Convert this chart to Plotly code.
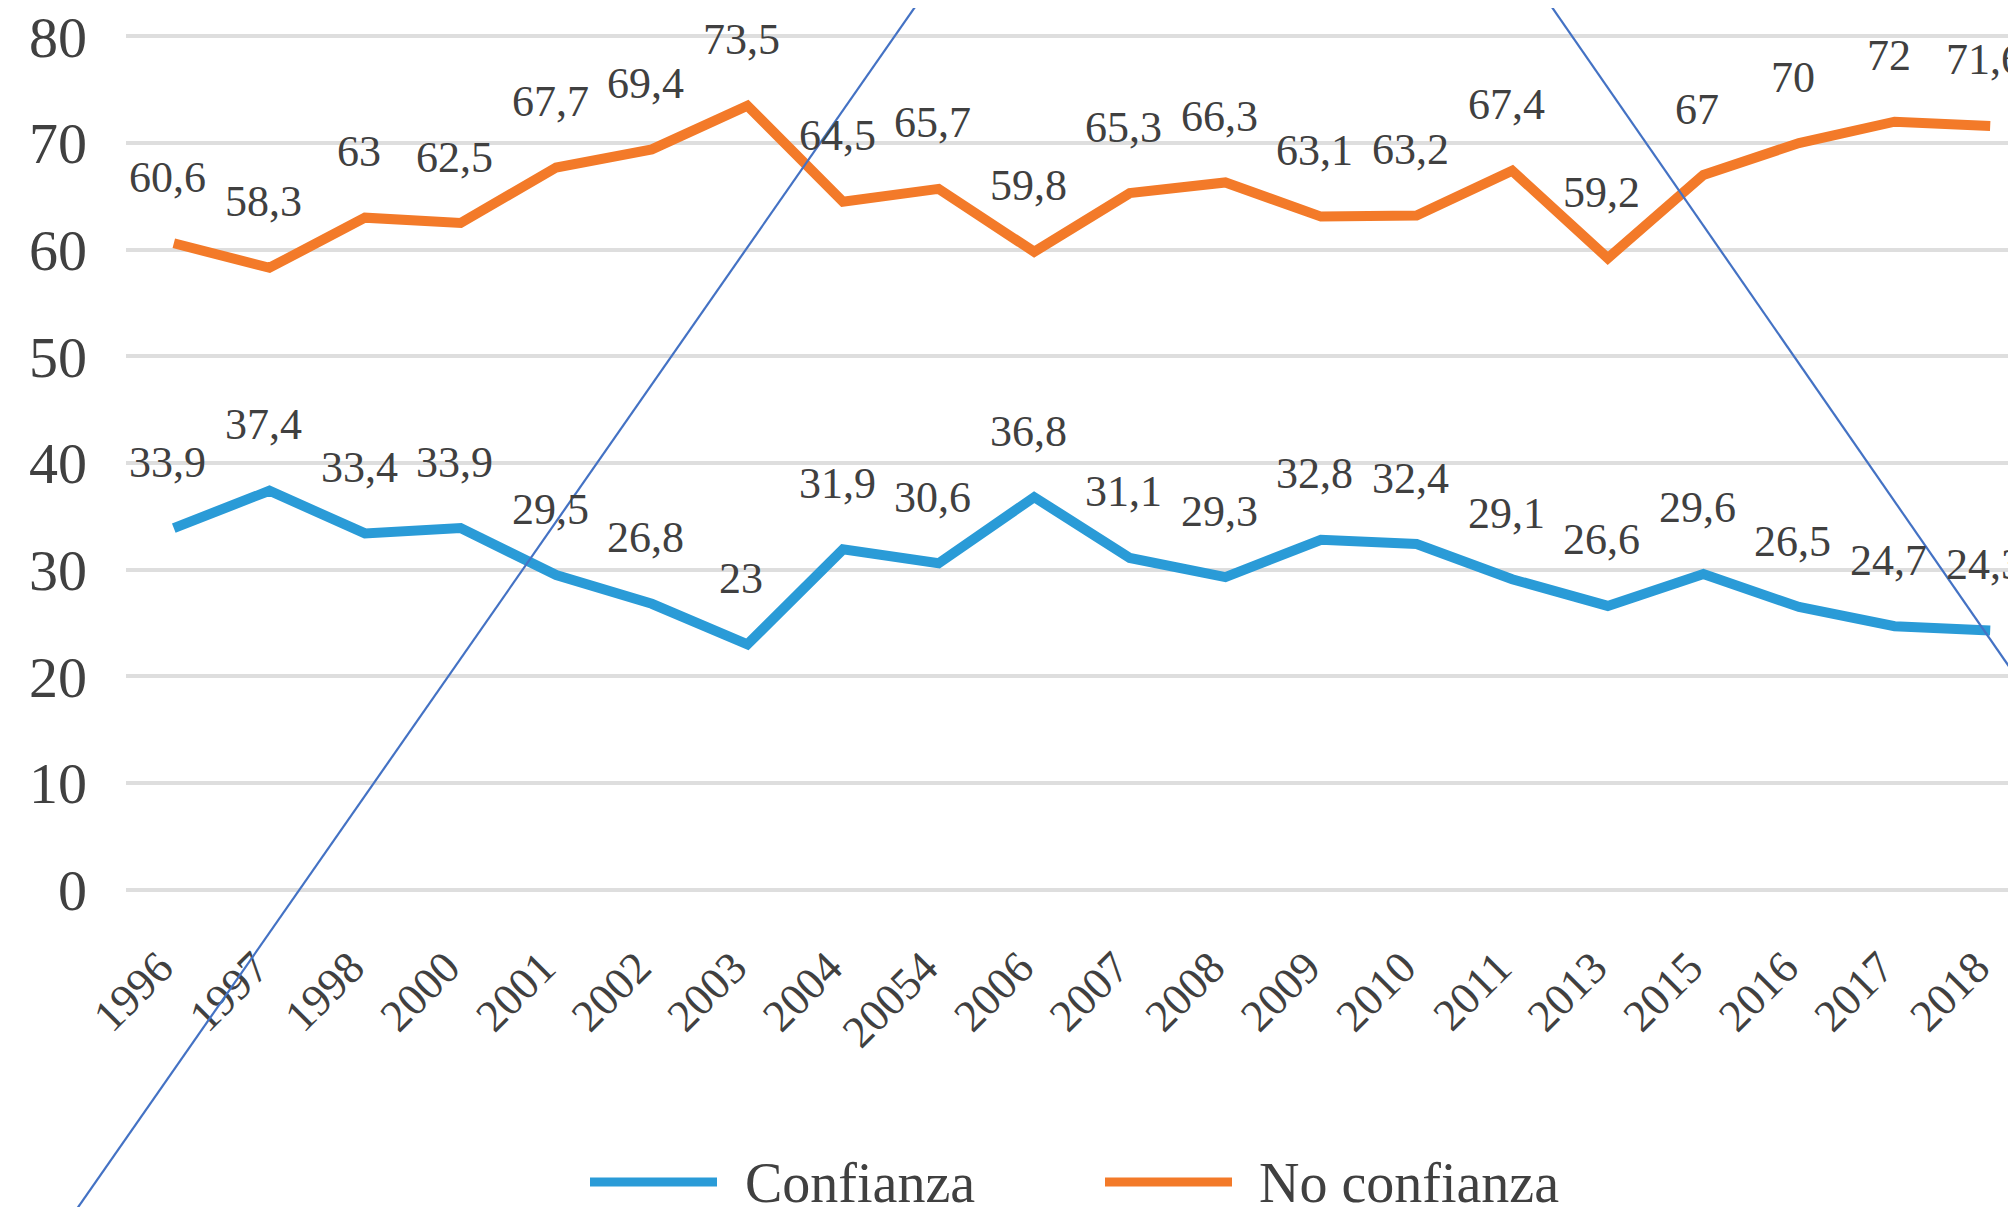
import plotly.graph_objects as go

# ---------------- data ----------------
categories = ["1996", "1997", "1998", "2000", "2001", "2002", "2003", "2004", "20054", "2006",
              "2007", "2008", "2009", "2010", "2011", "2013", "2015", "2016", "2017", "2018"]
confianza = [33.9, 37.4, 33.4, 33.9, 29.5, 26.8, 23, 31.9, 30.6, 36.8,
             31.1, 29.3, 32.8, 32.4, 29.1, 26.6, 29.6, 26.5, 24.7, 24.3]
no_confianza = [60.6, 58.3, 63, 62.5, 67.7, 69.4, 73.5, 64.5, 65.7, 59.8,
                65.3, 66.3, 63.1, 63.2, 67.4, 59.2, 67, 70, 72, 71.6]
y_ticks = [0, 10, 20, 30, 40, 50, 60, 70, 80]
series_names = ["Confianza", "No confianza"]

# ---------------- style ----------------
W, H = 2016, 1207
OFF = 8  # page body margin of the html page
ML, MR, MT, MB = 118, 8, 7, 304
PW = W - ML - MR
PH = H - MT - MB
BLUE = "#2A9BD7"
ORANGE = "#F37A29"
TEXT = "#404040"
FONT = "Liberation Serif"


def px_x(px):
    # window pixel -> paper coordinate
    return (px - OFF - ML) / PW


def px_y(py):
    return (H - MB - (py - OFF)) / PH


def fmt(v):
    return f"{v:g}".replace(".", ",")


fig = go.Figure()
for name, vals, col in [(series_names[0], confianza, BLUE), (series_names[1], no_confianza, ORANGE)]:
    fig.add_trace(go.Scatter(
        x=categories, y=vals, mode="lines", name=name,
        line=dict(color=col, width=10), showlegend=False, cliponaxis=False,
    ))

annotations = []
for vals in (confianza, no_confianza):
    for i, v in enumerate(vals):
        annotations.append(dict(
            x=i, y=v, xref="x", yref="y", text=fmt(v), showarrow=False,
            yshift=66, xshift=-6, font=dict(family=FONT, size=44, color=TEXT),
        ))

# custom legend (long line samples as in the reference)
legend_items = [(series_names[0], BLUE, 590, 717, 743), (series_names[1], ORANGE, 1105, 1232, 1257)]
shapes = []
for name, col, x0, x1, xt in legend_items:
    shapes.append(dict(type="line", xref="paper", yref="paper",
                       x0=px_x(x0), x1=px_x(x1), y0=px_y(1182), y1=px_y(1182),
                       line=dict(color=col, width=9)))
    annotations.append(dict(x=px_x(xt), y=px_y(1183), xref="paper", yref="paper",
                            xanchor="left", yanchor="middle", text=name, showarrow=False,
                            font=dict(family=FONT, size=56, color=TEXT)))

# thin diagonal overlay lines from the scanned page
for (ax, ay, bx, by) in [(58, 1236, 945, -36), (1522, -36, 2060, 740)]:
    shapes.append(dict(type="line", xref="paper", yref="paper",
                       x0=px_x(ax), y0=px_y(ay), x1=px_x(bx), y1=px_y(by),
                       line=dict(color="#4472C4", width=2.2), layer="above"))

fig.update_layout(
    width=W, height=H,
    margin=dict(l=ML, r=MR, t=MT, b=MB, autoexpand=False),
    paper_bgcolor="white", plot_bgcolor="white",
    annotations=annotations, shapes=shapes,
    showlegend=False,
)
fig.update_xaxes(
    type="category", range=[-0.5, 19.27], showgrid=False, zeroline=False, showline=False,
    tickangle=-45, tickfont=dict(family=FONT, size=45, color=TEXT),
    ticks="", ticklabelstandoff=20, ticklabelshift=-14, automargin=False,
    ticklabeloverflow="allow",
)
fig.update_yaxes(
    range=[-2, 82], tickvals=y_ticks, showgrid=True, gridcolor="#dedede", gridwidth=4,
    zeroline=False, showline=False, ticks="", automargin=False,
    tickfont=dict(family=FONT, size=58, color=TEXT), ticklabelstandoff=38,
    ticklabeloverflow="allow",
)

fig.write_html("out.html")
